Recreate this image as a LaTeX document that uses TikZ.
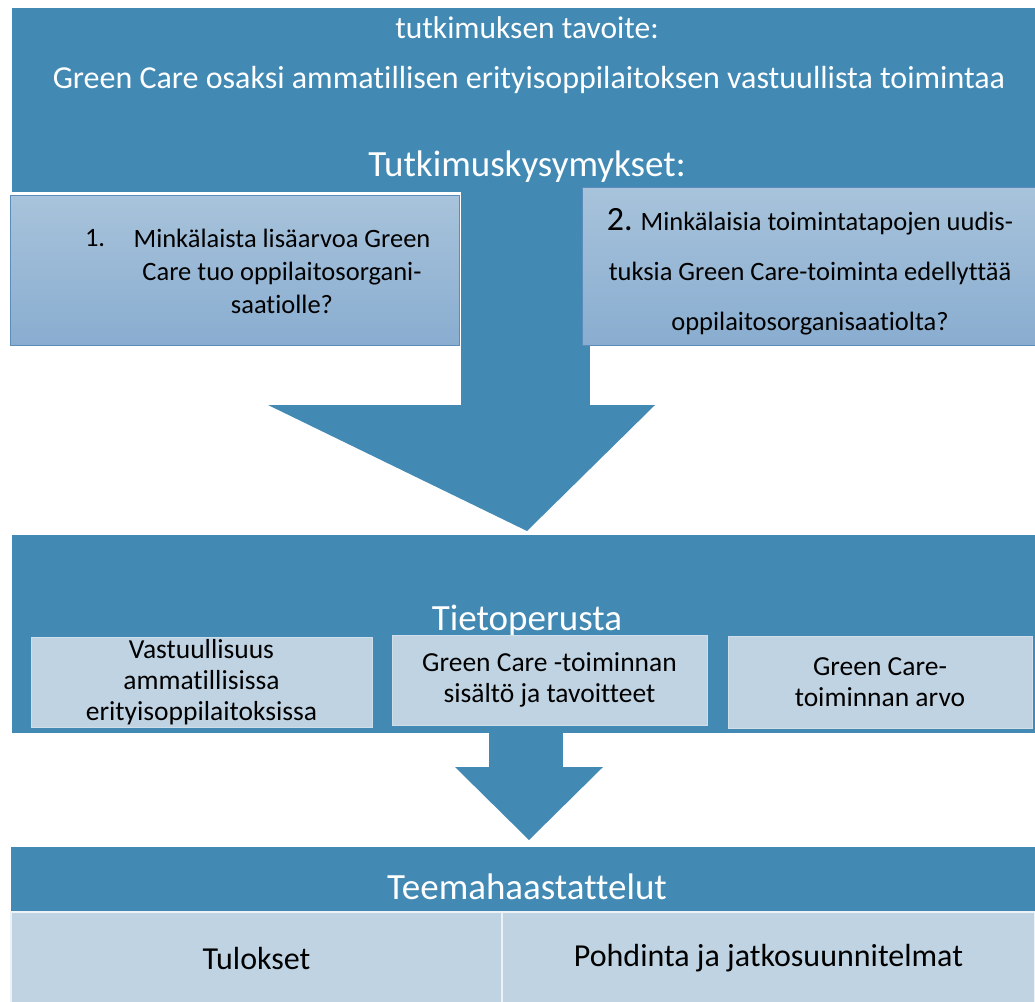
\documentclass[tikz,border=0pt]{standalone}
\usepackage{fontspec}
\setmainfont{Carlito}[Ligatures={NoCommon}]
\usetikzlibrary{positioning}
\definecolor{bandblue}{RGB}{66,138,180}
\definecolor{qtop}{RGB}{168,195,219}
\definecolor{qbot}{RGB}{137,173,208}
\definecolor{qedge}{RGB}{92,140,185}
\definecolor{topicfill}{RGB}{192,211,226}
\definecolor{topicedge}{RGB}{208,222,234}

\begin{document}
\begin{tikzpicture}[x=1pt, y=-1pt, outer sep=0pt, inner sep=0pt]
\tikzstyle{band}=[fill=bandblue, rectangle, anchor=north west]
\tikzstyle{qbox}=[rectangle, top color=qtop, bottom color=qbot, draw=qedge, line width=0.8pt, anchor=north west]
\tikzstyle{topic}=[rectangle, fill=topicfill, draw=topicedge, line width=1pt, anchor=north west, align=center, text=black, font=\fontsize{27.5}{31}\selectfont]
\tikzstyle{cell}=[rectangle, fill=topicfill, draw=white!70!topicfill, line width=1.5pt, anchor=north west, text=black, font=\fontsize{32}{34}\selectfont]
\tikzstyle{head}=[text=white, anchor=base]

\useasboundingbox (0,0) rectangle (1035,1001);

% research goal and questions
\node[band, minimum width=1023, minimum height=184] (goal) at (12,8) {};
\fill[bandblue] (461,180) coordinate (shaftL) rectangle (590,406) coordinate (shaftR);
\fill[bandblue] (268,405) coordinate (headL) -- (655,405) coordinate (headR) -- (527,531) coordinate (tip1) -- cycle;

\node[head, font=\fontsize{31.5}{34}\selectfont] (aim) at (527,38) {tutkimuksen tavoite:};
\node[head, font=\fontsize{32}{34}\selectfont] (aimtext) at (529,88) {Green Care osaksi ammatillisen erityisoppilaitoksen vastuullista toimintaa};
\node[head, font=\fontsize{37}{40}\selectfont] (questions) at (527,176) {Tutkimuskysymykset:};

\node[qbox, minimum width=449, minimum height=150] (q1) at (10,195) {};
\node[qbox, minimum width=455, minimum height=158] (q2) at (582,187) {};

\node[align=center, font=\fontsize{26.5}{33}\selectfont] (q1text) at (282,271) {Minkälaista lisäarvoa Green\\Care tuo oppilaitosorgani-\\saatiolle?};
\node[font=\fontsize{26.5}{33}\selectfont, anchor=base west] (q1num) at (85,246) {1.};
\node[align=center, font=\fontsize{26.5}{50}\selectfont] (q2text) at (810,272) {{\fontsize{34}{34}\selectfont 2.} Minkälaisia toimintatapojen uudis-\\tuksia Green Care-toiminta edellyttää\\oppilaitosorganisaatiolta?};

% knowledge base
\node[band, minimum width=1023, minimum height=198] (base) at (12,535) {};
\node[head, font=\fontsize{37}{40}\selectfont] (basetitle) at (527,630) {Tietoperusta};
\node[topic, minimum width=341, minimum height=90] (topicA) at (31,637) {Vastuullisuus\\ammatillisissa\\erityisoppilaitoksissa};
\node[topic, minimum width=315, minimum height=90] (topicB) at (392,635) {Green Care -toiminnan\\sisältö ja tavoitteet};
\node[topic, minimum width=304, minimum height=92] (topicC) at (728,636) {Green Care-\\toiminnan arvo};

\fill[bandblue] (489,730) rectangle (563,768);
\fill[bandblue] (455,767) coordinate (head2L) -- (603,767) coordinate (head2R) -- (529,840) coordinate (tip2) -- cycle;

% interviews
\node[band, minimum width=1024, minimum height=66] (interviews) at (11,847) {};
\node[head, font=\fontsize{37}{40}\selectfont] (intertitle) at (527,899) {Teemahaastattelut};
\node[cell, minimum width=491, minimum height=92] (results) at (11,912) {Tulokset};
\node[cell, minimum width=533, minimum height=92] (discussion) [right = 0pt of results.north east, anchor=north west] {Pohdinta ja jatkosuunnitelmat};

\end{tikzpicture}
\end{document}
